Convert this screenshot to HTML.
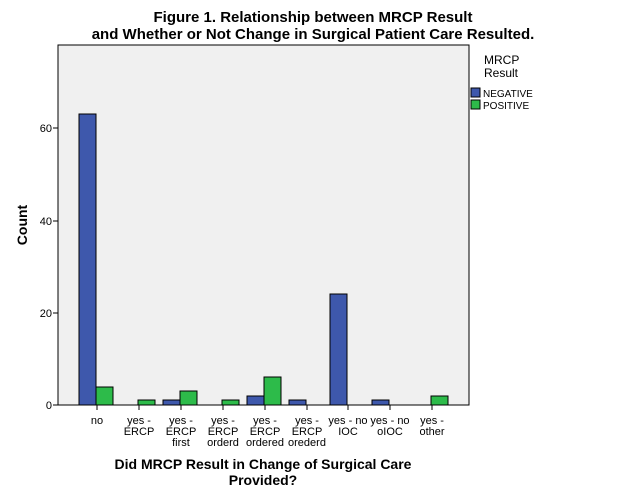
<!DOCTYPE html>
<html><head><style>
body{margin:0;background:#fff;}
svg{display:block;font-family:"Liberation Sans",Arial,sans-serif;}
</style></head><body>
<svg width="626" height="501" viewBox="0 0 626 501">
<text x="313" y="22" text-anchor="middle" font-size="15" font-weight="bold">Figure 1. Relationship between MRCP Result</text>
<text x="313" y="39" text-anchor="middle" font-size="15" font-weight="bold">and Whether or Not Change in Surgical Patient Care Resulted.</text>
<rect x="58" y="45" width="411" height="360" fill="#f0f0f0" stroke="#000" stroke-width="1"/>
<g stroke="#000" stroke-width="1">
<line x1="53" y1="405" x2="58" y2="405"/><line x1="53" y1="313" x2="58" y2="313"/><line x1="53" y1="221" x2="58" y2="221"/><line x1="53" y1="128" x2="58" y2="128"/>
</g>
<g font-size="11" text-anchor="end">
<text x="52" y="409">0</text><text x="52" y="317">20</text><text x="52" y="225">40</text><text x="52" y="132">60</text>
</g>
<text transform="translate(27,225) rotate(-90)" text-anchor="middle" font-size="14" font-weight="bold">Count</text>
<g stroke="#000" stroke-width="1">
<!-- bars: unit 4.617 -->
<rect x="79" y="114" width="17" height="291" fill="#3e58ac"/>
<rect x="96" y="387" width="17" height="18" fill="#2dbb4a"/>
<rect x="138" y="400" width="17" height="5" fill="#2dbb4a"/>
<rect x="163" y="400" width="17" height="5" fill="#3e58ac"/>
<rect x="180" y="391" width="17" height="14" fill="#2dbb4a"/>
<rect x="222" y="400" width="17" height="5" fill="#2dbb4a"/>
<rect x="247" y="396" width="17" height="9" fill="#3e58ac"/>
<rect x="264" y="377" width="17" height="28" fill="#2dbb4a"/>
<rect x="289" y="400" width="17" height="5" fill="#3e58ac"/>
<rect x="330" y="294" width="17" height="111" fill="#3e58ac"/>
<rect x="372" y="400" width="17" height="5" fill="#3e58ac"/>
<rect x="431" y="396" width="17" height="9" fill="#2dbb4a"/>
</g>
<g stroke="#000">
<line x1="97" y1="405" x2="97" y2="410"/><line x1="139" y1="405" x2="139" y2="410"/><line x1="181" y1="405" x2="181" y2="410"/><line x1="223" y1="405" x2="223" y2="410"/><line x1="265" y1="405" x2="265" y2="410"/><line x1="307" y1="405" x2="307" y2="410"/><line x1="348" y1="405" x2="348" y2="410"/><line x1="390" y1="405" x2="390" y2="410"/><line x1="432" y1="405" x2="432" y2="410"/>
</g>
<g font-size="11" text-anchor="middle">
<text x="97" y="424">no</text>
<text x="139" y="424">yes -</text><text x="139" y="435">ERCP</text>
<text x="181" y="424">yes -</text><text x="181" y="435">ERCP</text><text x="181" y="446">first</text>
<text x="223" y="424">yes -</text><text x="223" y="435">ERCP</text><text x="223" y="446">orderd</text>
<text x="265" y="424">yes -</text><text x="265" y="435">ERCP</text><text x="265" y="446">ordered</text>
<text x="307" y="424">yes -</text><text x="307" y="435">ERCP</text><text x="307" y="446">orederd</text>
<text x="348" y="424">yes - no</text><text x="348" y="435">IOC</text>
<text x="390" y="424">yes - no</text><text x="390" y="435">oIOC</text>
<text x="432" y="424">yes -</text><text x="432" y="435">other</text>
</g>
<text x="263" y="469" text-anchor="middle" font-size="14" font-weight="bold">Did MRCP Result in Change of Surgical Care</text>
<text x="263" y="485" text-anchor="middle" font-size="14" font-weight="bold">Provided?</text>
<text x="484" y="64" font-size="12">MRCP</text>
<text x="484" y="77" font-size="12">Result</text>
<rect x="471" y="88" width="9" height="9" fill="#3e58ac" stroke="#000"/>
<text x="483" y="97" font-size="10">NEGATIVE</text>
<rect x="471" y="100" width="9" height="9" fill="#2dbb4a" stroke="#000"/>
<text x="483" y="109" font-size="10">POSITIVE</text>
</svg>
</body></html>
